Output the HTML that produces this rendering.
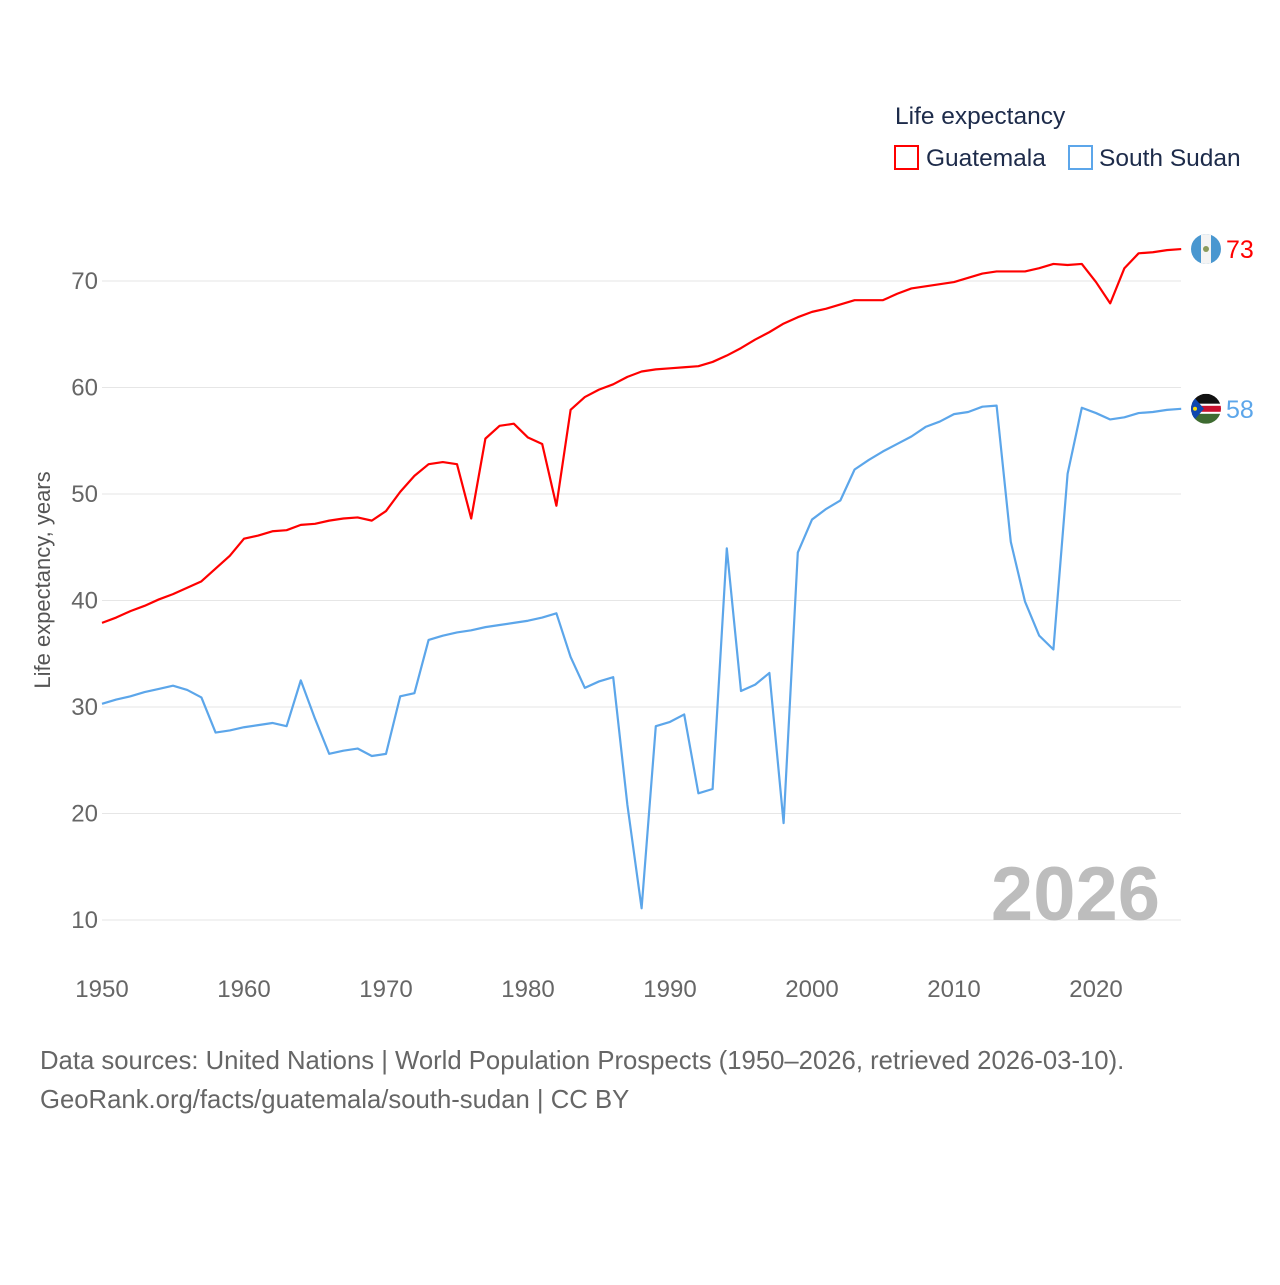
<!DOCTYPE html>
<html><head><meta charset="utf-8"><style>
body{margin:0;background:#fff;font-family:"Liberation Sans",sans-serif}
svg text{font-family:"Liberation Sans",sans-serif}
</style></head><body>
<svg id="chart" width="1280" height="1280">
<defs>
<clipPath id="cg"><circle cx="1206" cy="0" r="15"/></clipPath>
</defs>
<g id="grid"></g><g id="series"></g>
<text x="895" y="124" font-size="24.5" fill="#1d2b4a">Life expectancy</text>
<g>
<rect x="895" y="146" width="23" height="23" fill="none" stroke="#f00" stroke-width="2"/>
<text x="926" y="166" font-size="24.5" fill="#1d2b4a">Guatemala</text></g>
<g>
<rect x="1069" y="146" width="23" height="23" fill="none" stroke="#5ca6ea" stroke-width="2"/>
<text x="1099" y="166" font-size="24.5" fill="#1d2b4a">South Sudan</text></g>
<text x="1160" y="920" font-size="76" font-weight="bold" fill="#bdbdbd" text-anchor="end">2026</text>
<text transform="translate(50,580) rotate(-90)" font-size="22" fill="#555" text-anchor="middle">Life expectancy, years</text>
<text x="40" y="1069" font-size="25.7" fill="#666">Data sources: United Nations | World Population Prospects (1950–2026, retrieved 2026-03-10).</text>
<text x="40" y="1108" font-size="25.7" fill="#666">GeoRank.org/facts/guatemala/south-sudan | CC BY</text>
</svg>
<script>
const years=[];for(let y=1950;y<=2026;y++)years.push(y);
const guatemala=[37.9,38.4,39.0,39.5,40.1,40.6,41.2,41.8,43.0,44.2,45.8,46.1,46.5,46.6,47.1,47.2,47.5,47.7,47.8,47.5,48.4,50.2,51.7,52.8,53.0,52.8,47.7,55.2,56.4,56.6,55.3,54.7,48.9,57.9,59.1,59.8,60.3,61.0,61.5,61.7,61.8,61.9,62.0,62.4,63.0,63.7,64.5,65.2,66.0,66.6,67.1,67.4,67.8,68.2,68.2,68.2,68.8,69.3,69.5,69.7,69.9,70.3,70.7,70.9,70.9,70.9,71.2,71.6,71.5,71.6,69.9,67.9,71.2,72.6,72.7,72.9,73.0];
const southSudan=[30.3,30.7,31.0,31.4,31.7,32.0,31.6,30.9,27.6,27.8,28.1,28.3,28.5,28.2,32.5,28.9,25.6,25.9,26.1,25.4,25.6,31.0,31.3,36.3,36.7,37.0,37.2,37.5,37.7,37.9,38.1,38.4,38.8,34.7,31.8,32.4,32.8,20.8,11.1,28.2,28.6,29.3,21.9,22.3,44.9,31.5,32.1,33.2,19.1,44.5,47.6,48.6,49.4,52.3,53.2,54.0,54.7,55.4,56.3,56.8,57.5,57.7,58.2,58.3,45.5,39.9,36.7,35.4,51.9,58.1,57.6,57.0,57.2,57.6,57.7,57.9,58.0];
const yTicks=[10,20,30,40,50,60,70];
const xTicks=[1950,1960,1970,1980,1990,2000,2010,2020];
const X=y=>102+(y-1950)*14.2;
const Y=v=>281+(70-v)*10.65;
const NS='http://www.w3.org/2000/svg';
const grid=document.getElementById('grid'),ser=document.getElementById('series');
function mk(p,tag,a){const e=document.createElementNS(NS,tag);for(const k in a)e.setAttribute(k,a[k]);p.appendChild(e);return e;}
yTicks.forEach(v=>{
 const l=mk(grid,'line',{x1:102,x2:1181,y1:Y(v),y2:Y(v),stroke:'#e6e6e6','stroke-width':1});
 
 
 const t=mk(grid,'text',{x:98,y:Y(v)+8,'font-size':24,fill:'#666','text-anchor':'end'});t.textContent=v;
 
 
});
xTicks.forEach(v=>{
 const t=mk(grid,'text',{x:X(v),y:997,'font-size':24,fill:'#666','text-anchor':'middle'});t.textContent=v;
 
 
});
function flag(ly,kind,name){
 const g=mk(ser,'g',{transform:'translate(0,'+ly+')','clip-path':'url(#cg)'});
 
 
 if(kind==='gt'){
  mk(g,'rect',{x:1191,y:-15,width:30,height:30,fill:'#4997d0'});
  mk(g,'rect',{x:1201,y:-15,width:10,height:30,fill:'#f4f4f4'});
  mk(g,'circle',{cx:1206,cy:0,r:3,fill:'#8a9a5b'});
 }else{
  mk(g,'rect',{x:1191,y:-15,width:30,height:10,fill:'#111'});
  mk(g,'rect',{x:1191,y:-5,width:30,height:10,fill:'#fff'});
  mk(g,'rect',{x:1191,y:-3,width:30,height:6,fill:'#c8102e'});
  mk(g,'rect',{x:1191,y:5,width:30,height:10,fill:'#3e6b31'});
  mk(g,'polygon',{points:'1191,-15 1204,0 1191,15',fill:'#0f47af'});
  mk(g,'circle',{cx:1195,cy:0,r:2,fill:'#fcdd09'});
 }
}
function line(data,color,name,kind){
 const p=mk(ser,'polyline',{points:data.map((v,i)=>X(years[i])+','+Y(v)).join(' '),fill:'none',stroke:color,'stroke-width':2.2,'stroke-linejoin':'round'});
 
 
 const last=data[data.length-1],ly=Y(last);
 flag(ly,kind,name);
 const t=mk(ser,'text',{x:1226,y:ly+9,'font-size':25,fill:color});t.textContent=Math.round(last);
 
 
}
line(guatemala,'#f00','guatemala-line','gt');
line(southSudan,'#5ca6ea','south-sudan-line','ss');
</script>
</body></html>
